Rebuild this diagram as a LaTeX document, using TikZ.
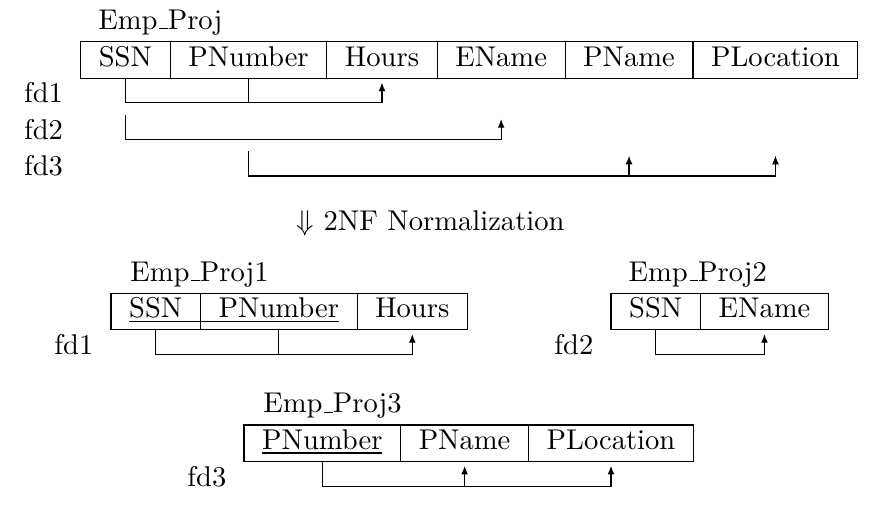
\documentclass[tikz,border=0pt]{standalone}
\usepackage{amsmath,amssymb}
\usepackage{tikz}
\usetikzlibrary{positioning,arrows.meta}

\newcommand{\uscore}{\leavevmode\kern.06em\vbox{\hrule width.3em}}

\begin{document}
\begin{tikzpicture}[x=0.35pt,y=-0.35pt,
  >={Latex[length=3pt,width=2.4pt]},
  cell/.style={draw,line width=0.4pt,outer sep=0pt,inner xsep=6.35pt,inner ysep=0.2pt,
    text height=8.4pt,text depth=4pt},
  tname/.style={inner sep=0pt,text depth=0pt},
  fdrow/.style={inner xsep=0pt,inner ysep=0.2pt,outer sep=0pt,text height=8.4pt,text depth=4pt},
  fdline/.style={line width=0.4pt},
  keyline/.style={line width=0.4pt}]
\useasboundingbox (0,0) rectangle (885,523);

% Emp_Proj
\node[cell,anchor=north west] (ep-ssn) at (80.7,41.7) {SSN};
\node[cell,right=0pt of ep-ssn] (ep-pnum) {PNumber};
\node[cell,right=0pt of ep-pnum] (ep-hours) {Hours};
\node[cell,right=0pt of ep-hours] (ep-ename) {EName};
\node[cell,right=0pt of ep-ename] (ep-pname) {PName};
\node[cell,right=0pt of ep-pname] (ep-ploc) {PLocation};
\node[tname,above right=4.1pt and 6pt of ep-ssn.north west] (ep-name) {Emp\uscore Proj};
\node[fdrow,below left=0pt and 6.2pt of ep-ssn.south west] (fd1) {fd1};
\node[fdrow,below=0pt of fd1] (fd2) {fd2};
\node[fdrow,below=0pt of fd2] (fd3) {fd3};
\draw[fdline,->] (ep-ssn.south) |- (fd1.base -| ep-hours) -- ([yshift=-1.5pt]fd1.north -| ep-hours);
\draw[fdline] (ep-pnum.south) -- (fd1.base -| ep-pnum);
\draw[fdline,->] (fd2.north -| ep-ssn) |- (fd2.base -| ep-ename) -- ([yshift=-1.5pt]fd2.north -| ep-ename);
\draw[fdline,->] (fd3.north -| ep-pnum) |- (fd3.base -| ep-ploc) -- ([yshift=-1.5pt]fd3.north -| ep-ploc);
\draw[fdline,->] (fd3.base -| ep-pname) -- ([yshift=-1.5pt]fd3.north -| ep-pname);

\node[anchor=base west,inner sep=0pt] (norm) at (296,230) {$\Downarrow$ 2NF Normalization};

% Emp_Proj1
\node[cell,anchor=north west] (p1-ssn) at (111,293.3) {SSN};
\node[cell,right=0pt of p1-ssn] (p1-pnum) {PNumber};
\node[cell,right=0pt of p1-pnum] (p1-hours) {Hours};
\node[tname,above right=4.1pt and 6.6pt of p1-ssn.north west] (p1-name) {Emp\uscore Proj1};
\node[fdrow,below left=0pt and 6.2pt of p1-ssn.south west] (p1fd1) {fd1};
\draw[keyline] ([xshift=6.35pt,yshift=-1.2pt]p1-ssn.base west) -- ([xshift=-6.35pt,yshift=-1.2pt]p1-pnum.base east);
\draw[fdline,->] (p1-ssn.south) |- (p1fd1.base -| p1-hours) -- ([yshift=-1.5pt]p1fd1.north -| p1-hours);
\draw[fdline] (p1-pnum.south) -- (p1fd1.base -| p1-pnum);

% Emp_Proj2
\node[cell,anchor=north west] (p2-ssn) at (611,293.3) {SSN};
\node[cell,right=0pt of p2-ssn] (p2-ename) {EName};
\node[tname,above right=4.1pt and 6pt of p2-ssn.north west] (p2-name) {Emp\uscore Proj2};
\node[fdrow,below left=0pt and 6.2pt of p2-ssn.south west] (p2fd2) {fd2};
\draw[fdline,->] (p2-ssn.south) |- (p2fd2.base -| p2-ename) -- ([yshift=-1.5pt]p2fd2.north -| p2-ename);

% Emp_Proj3
\node[cell,anchor=north west] (p3-pnum) at (244,425) {PNumber};
\node[cell,right=0pt of p3-pnum] (p3-pname) {PName};
\node[cell,right=0pt of p3-pname] (p3-ploc) {PLocation};
\node[tname,above right=4.1pt and 6.6pt of p3-pnum.north west] (p3-name) {Emp\uscore Proj3};
\node[fdrow,below left=0pt and 6.2pt of p3-pnum.south west] (p3fd3) {fd3};
\draw[keyline] ([xshift=6.35pt,yshift=-1.2pt]p3-pnum.base west) -- ([xshift=-6.35pt,yshift=-1.2pt]p3-pnum.base east);
\draw[fdline,->] (p3-pnum.south) |- (p3fd3.base -| p3-ploc) -- ([yshift=-1.5pt]p3fd3.north -| p3-ploc);
\draw[fdline,->] (p3fd3.base -| p3-pname) -- ([yshift=-1.5pt]p3fd3.north -| p3-pname);
\end{tikzpicture}
\end{document}
